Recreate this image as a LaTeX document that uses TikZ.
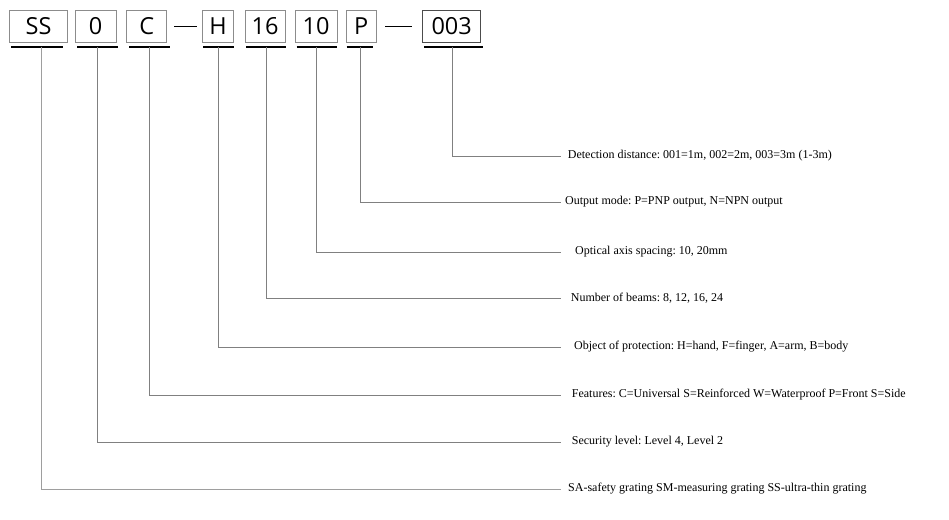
\documentclass[tikz,border=0pt]{standalone}
\usepackage{fontspec}
\setmainfont{Liberation Serif}
\newfontfamily\boxfont{Open Sans}
\frenchspacing
\begin{document}
\begin{tikzpicture}[x=1pt,y=-1pt,
  codebox/.style={draw=black!45, line width=0.9pt, minimum height=31.6pt, inner sep=0pt, font=\boxfont\fontsize{23.5}{26}\selectfont},
  uline/.style={black, line width=1.3pt},
  dashline/.style={black, line width=1.7pt},
  conn/.style={black!50, line width=0.9pt},
  lab/.style={anchor=west, inner sep=0pt, font=\fontsize{12}{14}\selectfont}]
\useasboundingbox (0,0) rectangle (949,519);
% code boxes
\node[codebox, minimum width=58.4pt] (bSS) at (38.5,26.5) {SS};
\node[codebox, minimum width=41pt] (b0) at (95.5,26.5) {0};
\node[codebox, minimum width=40pt] (bC) at (146.7,26.5) {C};
\node[codebox, minimum width=30.6pt] (bH) at (218,26.5) {H};
\node[codebox, minimum width=40pt] (b16) at (265,26.5) {16};
\node[codebox, minimum width=42pt] (b10) at (316,26.5) {10};
\node[codebox, minimum width=30.7pt] (bP) at (361.3,26.5) {P};
\node[codebox, draw=black!70, minimum width=58pt] (b003) at (451.7,26.5) {003};
% dashes
\draw[dashline, shorten <=7.3pt, shorten >=5.7pt] (bC.east) -- (bH.west);
\draw[dashline, shorten <=8.3pt, shorten >=10pt] (bP.east) -- (b003.west);
% underlines
\draw[uline] (11,47) -- (63,47);
\draw[uline] (77,47) -- (117.7,47);
\draw[uline] (129,47) -- (169.7,47);
\draw[uline] (203,47) -- (233.7,47);
\draw[uline] (246,47) -- (285.7,47);
\draw[uline] (296.7,47) -- (336.7,47);
\draw[uline] (346.7,47) -- (373,47);
\draw[uline] (424,47) -- (483,47);
% connector start points
\coordinate (sSS) at (41,47);
\coordinate (s0) at (97.7,47);
\coordinate (sC) at (149.3,47);
\coordinate (sH) at (218.3,47);
\coordinate (s16) at (266.5,47);
\coordinate (s10) at (316.7,47);
\coordinate (sP) at (360.7,47);
\coordinate (s003) at (452.3,47);
% connector end points
\coordinate (e003) at (561,156);
\coordinate (eP) at (561,202);
\coordinate (e10) at (561,252);
\coordinate (e16) at (561,298);
\coordinate (eH) at (561,347);
\coordinate (eC) at (561,395);
\coordinate (e0) at (561,442);
\coordinate (eSS) at (561,489);
% labels
\node[lab] (l003) at (567.7,156) {Detection distance: 001=1m, 002=2m, 003=3m (1-3m)};
\node[lab] (lP) at (565,202) {Output mode: P=PNP output, N=NPN output};
\node[lab] (l10) at (575,252) {Optical axis spacing: 10, 20mm};
\node[lab] (l16) at (570.7,298) {Number of beams: 8, 12, 16, 24};
\node[lab] (lH) at (574,347) {Object of protection: H=hand, F=finger, A=arm, B=body};
\node[lab] (lC) at (571.7,395) {Features: C=Universal S=Reinforced W=Waterproof P=Front S=Side};
\node[lab] (l0) at (571.7,442) {Security level: Level 4, Level 2};
\node[lab] (lSS) at (568,489) {SA-safety grating SM-measuring grating SS-ultra-thin grating};
% connectors
\draw[conn] (s003) |- (e003);
\draw[conn] (sP) |- (eP);
\draw[conn] (s10) |- (e10);
\draw[conn] (s16) |- (e16);
\draw[conn] (sH) |- (eH);
\draw[conn] (sC) |- (eC);
\draw[conn] (s0) |- (e0);
\draw[conn, black!38] (sSS) |- (eSS);
\end{tikzpicture}
\end{document}
